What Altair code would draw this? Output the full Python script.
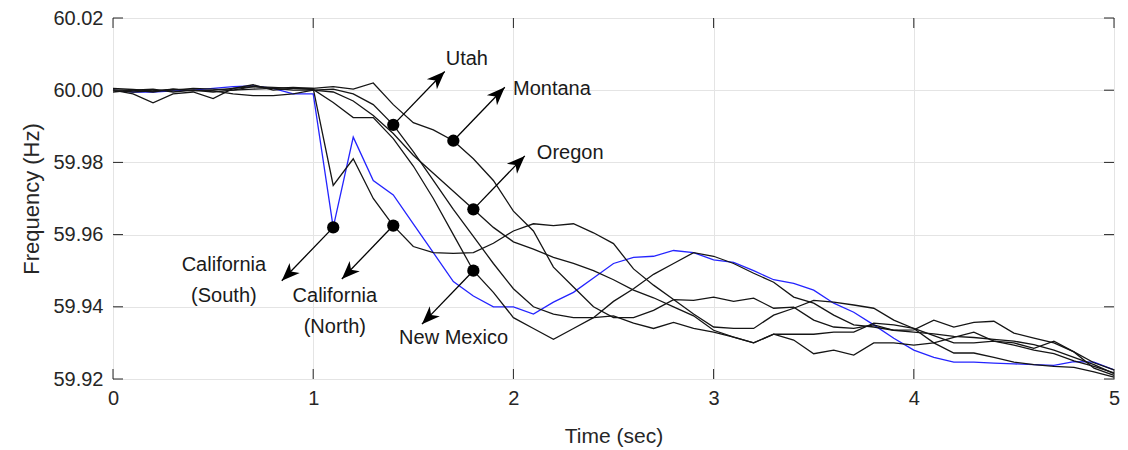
import altair as alt
import pandas as pd

# ---------------- data ----------------
time = [round(i * 0.1, 1) for i in range(51)]

cal_south = [60.000, 59.9995, 59.9995, 59.9998, 60.000, 60.0005, 60.001, 60.0012, 60.0005, 59.999, 59.999,
             59.962, 59.987, 59.975, 59.971, 59.963, 59.955, 59.947, 59.943, 59.940, 59.940,
             59.938, 59.9413, 59.944, 59.948, 59.952, 59.9537, 59.954, 59.9556, 59.955, 59.953,
             59.9523, 59.950, 59.9475, 59.9465, 59.9446, 59.941, 59.9385, 59.935, 59.9313, 59.928,
             59.926, 59.9247, 59.9247, 59.9244, 59.9242, 59.924, 59.9238, 59.9248, 59.9247, 59.9225]

cal_north = [60.000, 59.999, 59.9965, 59.999, 59.9995, 59.9977, 60.0005, 60.0015, 60.000, 60.0005, 60.0005,
             59.9736, 59.981, 59.970, 59.9625, 59.9567, 59.955, 59.9548, 59.955, 59.9576, 59.961,
             59.963, 59.9625, 59.963, 59.9605, 59.9575, 59.9505, 59.946, 59.942, 59.938, 59.9344,
             59.934, 59.934, 59.9377, 59.9396, 59.9418, 59.9413, 59.9405, 59.9396, 59.9363, 59.934,
             59.930, 59.9272, 59.9272, 59.926, 59.9247, 59.924, 59.9235, 59.9232, 59.922, 59.9205]

utah = [60.000, 59.9995, 59.9998, 60.0003, 60.000, 59.9995, 60.000, 60.0003, 60.0005, 60.000, 60.000,
        60.0003, 59.999, 59.996, 59.9904, 59.983, 59.975, 59.967, 59.9595, 59.952, 59.945,
        59.940, 59.938, 59.937, 59.937, 59.9375, 59.9355, 59.934, 59.9357, 59.934, 59.933,
        59.9316, 59.930, 59.9324, 59.9324, 59.9324, 59.933, 59.933, 59.9355, 59.935, 59.934,
        59.932, 59.930, 59.930, 59.9305, 59.930, 59.9285, 59.9305, 59.9275, 59.9245, 59.9225]

montana = [60.000, 60.000, 59.9995, 60.0003, 59.9998, 60.000, 60.0005, 60.001, 60.0005, 60.0008, 60.0005,
           60.001, 60.0003, 60.002, 59.996, 59.991, 59.989, 59.986, 59.981, 59.975, 59.9665,
           59.961, 59.951, 59.9455, 59.940, 59.937, 59.937, 59.939, 59.942, 59.9418, 59.9427,
           59.9415, 59.9424, 59.9396, 59.9399, 59.9363, 59.9344, 59.934, 59.935, 59.9335, 59.9336,
           59.9363, 59.9344, 59.9357, 59.936, 59.9327, 59.9313, 59.930, 59.9275, 59.923, 59.921]

oregon = [59.9995, 60.000, 60.0003, 59.9995, 60.000, 59.9998, 59.999, 59.9985, 59.9985, 59.999, 60.000,
          59.9995, 59.997, 59.993, 59.988, 59.982, 59.977, 59.972, 59.967, 59.962, 59.958,
          59.956, 59.9537, 59.952, 59.950, 59.9475, 59.9446, 59.9425, 59.940, 59.9375, 59.9335,
          59.9316, 59.930, 59.9324, 59.9308, 59.927, 59.928, 59.9266, 59.930, 59.930, 59.9294,
          59.930, 59.9315, 59.933, 59.9305, 59.9294, 59.928, 59.927, 59.925, 59.9235, 59.9217]

new_mexico = [60.0005, 60.0002, 59.9998, 60.000, 60.0005, 60.0003, 60.000, 60.001, 60.0008, 60.0005, 60.0002,
              59.9966, 59.9924, 59.9924, 59.9866, 59.979, 59.970, 59.960, 59.950, 59.944, 59.937,
              59.934, 59.931, 59.934, 59.937, 59.9415, 59.945, 59.949, 59.952, 59.955, 59.954,
              59.952, 59.9493, 59.9468, 59.9427, 59.941, 59.9377, 59.935, 59.9344, 59.9335, 59.933,
              59.9325, 59.9318, 59.9315, 59.931, 59.9305, 59.9295, 59.928, 59.926, 59.924, 59.9215]

black_names = ["California (North)", "Utah", "Montana", "Oregon", "New Mexico"]
black_values = [cal_north, utah, montana, oregon, new_mexico]

# annotations
ann_series = ["Utah", "Montana", "Oregon", "California (South)", "California (North)", "New Mexico"]
ann_time = [1.4, 1.7, 1.8, 1.1, 1.4, 1.8]
ann_dir = [1, 1, 1, -1, -1, -1]
ann_text = ["Utah", "Montana", "Oregon", "California\n(South)", "California\n(North)", "New Mexico"]
ann_label_x = [1.662, 1.998, 2.117, 0.554, 1.108, 1.701]
ann_label_y = [60.0087, 60.0004, 59.9827, 59.9515, 59.9429, 59.9313]
ann_align = ["left", "left", "left", "center", "center", "center"]
arrow_dt = 0.257
arrow_df = 0.0148

x_ticks = [0, 1, 2, 3, 4, 5]
y_ticks = [59.92, 59.94, 59.96, 59.98, 60.00, 60.02]

# ---------------- tables ----------------
series_map = {"California (South)": cal_south}
series_map.update(dict(zip(black_names, black_values)))

df_blue = pd.DataFrame({"time": time, "freq": cal_south, "series": "California (South)"})
df_black = pd.concat(
    [pd.DataFrame({"time": time, "freq": v, "series": n}) for n, v in zip(black_names, black_values)],
    ignore_index=True,
)

rows = []
for s, t, d, txt, lx, ly, al in zip(ann_series, ann_time, ann_dir, ann_text, ann_label_x, ann_label_y, ann_align):
    f = series_map[s][int(round(t * 10))]
    rows.append({
        "series": s, "time": t, "freq": f,
        "time2": t + d * arrow_dt, "freq2": f + d * arrow_df,
        "ang": 45 if d > 0 else 225,
        "text": txt, "lx": lx, "ly": ly, "align": al,
    })
df_ann = pd.DataFrame(rows)
df_head = pd.DataFrame({"time": df_ann["time2"], "freq": df_ann["freq2"], "ang": df_ann["ang"]})
df_lab_left = df_ann[df_ann["align"] == "left"].drop(columns=["time", "freq"]).rename(
    columns={"lx": "time", "ly": "freq"})
df_lab_center = df_ann[df_ann["align"] == "center"].drop(columns=["time", "freq"]).rename(
    columns={"lx": "time", "ly": "freq"})

df_xt = pd.DataFrame({"time": x_ticks})
df_yt = pd.DataFrame({"freq": y_ticks})

# ---------------- chart ----------------
FONT = "Liberation Sans"
TXT = "#262626"
W, H = 1001, 361

xs = alt.Scale(domain=[0, 5], nice=False, zero=False)
ys = alt.Scale(domain=[59.92, 60.02], nice=False, zero=False)

x_axis = alt.Axis(values=x_ticks, format="d", title="Time (sec)", grid=True, gridColor="#e4e4e4",
                  domain=False, ticks=False, labelFlush=False, labelPadding=9,
                  labelFont=FONT, labelFontSize=20, labelColor=TXT,
                  titleFont=FONT, titleFontSize=21, titleFontWeight="normal", titleColor=TXT, titlePadding=17)
y_axis = alt.Axis(values=y_ticks, format=".2f", title="Frequency (Hz)", grid=True, gridColor="#e4e4e4",
                  domain=False, ticks=False, labelFlush=False, labelPadding=10,
                  labelFont=FONT, labelFontSize=20, labelColor=TXT,
                  titleFont=FONT, titleFontSize=22, titleFontWeight="normal", titleColor=TXT, titlePadding=9)

X = lambda: alt.X("time:Q", scale=xs, title="Time (sec)")
Y = lambda: alt.Y("freq:Q", scale=ys, title="Frequency (Hz)")

blue = alt.Chart(df_blue).mark_line(color="#2424ff", strokeWidth=1.3).encode(
    x=alt.X("time:Q", scale=xs, axis=x_axis),
    y=alt.Y("freq:Q", scale=ys, axis=y_axis),
)
black = alt.Chart(df_black).mark_line(color="#151515", strokeWidth=1.3).encode(
    x=X(), y=Y(), detail="series:N",
)

arrows = alt.Chart(df_ann).mark_rule(color="black", strokeWidth=1.3).encode(
    x=X(), y=Y(), x2="time2:Q", y2="freq2:Q",
)
head_path = "M0,0 L0.55,1.4 L0,1.0 L-0.55,1.4 Z"
heads = alt.Chart(df_head).mark_point(shape=head_path, filled=True, size=676, color="black",
                                      opacity=1, strokeWidth=0).encode(
    x=X(), y=Y(), angle=alt.Angle("ang:Q", scale=None),
)
dots = alt.Chart(df_ann).mark_circle(size=150, color="black", opacity=1).encode(x=X(), y=Y())
lab_left = alt.Chart(df_lab_left).mark_text(font=FONT, fontSize=20, align="left", baseline="middle",
                                            color="#1a1a1a", lineBreak="\n", lineHeight=31).encode(
    x=X(), y=Y(), text="text:N",
)
lab_center = alt.Chart(df_lab_center).mark_text(font=FONT, fontSize=20, align="center", baseline="middle",
                                                color="#1a1a1a", lineBreak="\n", lineHeight=31).encode(
    x=X(), y=Y(), text="text:N",
)

tick_style = dict(color=TXT, strokeWidth=1)
xt_bottom = alt.Chart(df_xt).mark_rule(**tick_style).encode(x=X(), y=alt.value(H), y2=alt.value(H - 10))
xt_top = alt.Chart(df_xt).mark_rule(**tick_style).encode(x=X(), y=alt.value(0), y2=alt.value(10))
yt_left = alt.Chart(df_yt).mark_rule(**tick_style).encode(y=Y(), x=alt.value(0), x2=alt.value(10))
yt_right = alt.Chart(df_yt).mark_rule(**tick_style).encode(y=Y(), x=alt.value(W), x2=alt.value(W - 10))

chart = alt.layer(
    blue, black, xt_bottom, xt_top, yt_left, yt_right, arrows, heads, dots, lab_left, lab_center
).properties(
    width=W, height=H,
    padding={"left": 105, "top": 10, "right": 6, "bottom": 70},
    autosize=alt.AutoSizeParams(type="none"),
    background="white",
).configure_view(stroke=TXT, strokeWidth=1)

chart.save("out.html", embed_options={"renderer": "svg", "actions": False})
